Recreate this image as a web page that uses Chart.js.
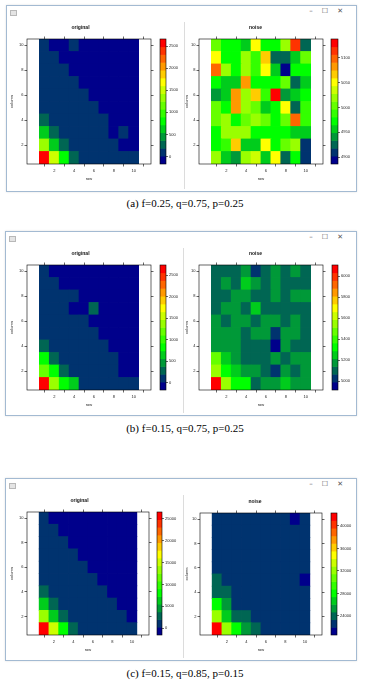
<!DOCTYPE html>
<html>
<head>
<meta charset="utf-8">
<script src="https://cdn.jsdelivr.net/npm/chart.js@4/dist/chart.umd.min.js"></script>
<style>
body { margin: 0; width: 370px; height: 690px; position: relative; overflow: hidden; background: #fff; }
.win { position: absolute; box-sizing: border-box; border: 1px solid #a3bad2; background: #fff; box-shadow: 0 0 2px rgba(0,0,0,0.12); }
.win .icon { position: absolute; left: 3px; top: 4px; width: 5px; height: 4px; border: 1px solid #b8b8b8; background: #e4e4e4; }
.win .btns { position: absolute; right: 4px; top: 1px; font: 7px "DejaVu Sans", sans-serif; color: #555; letter-spacing: 9px; }
.win .split { position: absolute; left: 177px; top: 16px; bottom: 2px; width: 1px; background: #dcdcdc; }
.box { position: absolute; }
.cap { position: absolute; left: 0; width: 370px; text-align: center; font: 11px "Liberation Serif", "Times New Roman", serif; color: #000; line-height: 13px; }
</style>
</head>
<body>
<script>
// x = row, y = column; grids below are written from column 10 (top) down to column 1
const rows = [1, 2, 3, 4, 5, 6, 7, 8, 9, 10];
const axisTicks = [2, 4, 6, 8, 10];

// (a) f=0.25, q=0.75, p=0.25
const origA = [
  [60, 0, 0, 25, 0, 0, 0, 0, 0, 0],
  [70, 55, 0, 0, 0, 0, 0, 0, 0, 0],
  [80, 65, 50, 0, 0, 0, 0, 0, 0, 0],
  [95, 80, 60, 45, 0, 0, 0, 0, 0, 0],
  [110, 90, 75, 55, 40, 0, 0, 0, 0, 0],
  [130, 105, 85, 65, 50, 35, 0, 0, 0, 0],
  [260, 125, 100, 80, 60, 45, 30, 0, 0, 0],
  [620, 240, 120, 95, 75, 55, 40, 0, 25, 0],
  [1330, 600, 230, 115, 90, 70, 50, 35, 0, 0],
  [2560, 1500, 780, 290, 110, 85, 65, 45, 30, 20]
];
const noiseA = [
  [5003, 4970, 4975, 4955, 5050, 4973, 4968, 5021, 5113, 4927],
  [5054, 4971, 4969, 5018, 4988, 5067, 4924, 4928, 4957, 5005],
  [5097, 5020, 4974, 5017, 4990, 5049, 4955, 4894, 4972, 4970],
  [4973, 4958, 4954, 5082, 4971, 4976, 4969, 5001, 4925, 4957],
  [4941, 4955, 5085, 5019, 5068, 4987, 5130, 4939, 4956, 4972],
  [5004, 4974, 5083, 5021, 5002, 4958, 4970, 5053, 4926, 4990],
  [5006, 5018, 4971, 5004, 5020, 5002, 4973, 5005, 5099, 4986],
  [4972, 5021, 5018, 5017, 4969, 4974, 4971, 4973, 4957, 4955],
  [4970, 4989, 5066, 4954, 4958, 5050, 4972, 5003, 5019, 4910],
  [5020, 4956, 4941, 5019, 5036, 4957, 5051, 4927, 4971, 4908]
];
const origARange = [-170, 2660];
const noiseARange = [4886, 5138];
const origATicks = [0, 500, 1000, 1500, 2000, 2500];
const noiseATicks = [4900, 4950, 5000, 5050, 5100];

// (b) f=0.15, q=0.75, p=0.25
const origB = [
  [60, 0, 0, 0, 0, 0, 0, 0, 0, 0],
  [70, 55, 0, 0, 0, 0, 0, 0, 0, 0],
  [80, 65, 50, 40, 0, 0, 0, 0, 0, 0],
  [95, 80, 60, 0, 0, 250, 0, 0, 0, 0],
  [110, 90, 75, 55, 40, 0, 0, 0, 0, 0],
  [130, 105, 85, 65, 50, 35, 0, 0, 0, 0],
  [270, 125, 100, 80, 60, 45, 30, 0, 0, 0],
  [820, 250, 120, 95, 75, 55, 40, 30, 0, 0],
  [1200, 830, 240, 115, 90, 70, 50, 35, 0, 0],
  [2650, 1420, 830, 650, 110, 85, 65, 45, 30, 20]
];
const noiseB = [
  [5098, 5105, 5092, 5170, 5030, 5110, 5178, 5096, 5181, 5104],
  [5107, 5172, 5099, 5246, 5168, 5093, 5176, 5102, 5110, 5095],
  [5101, 5094, 5183, 5177, 5106, 5098, 5172, 5108, 5169, 5180],
  [5096, 5174, 5180, 5103, 5255, 5100, 5092, 5109, 5097, 5105],
  [5185, 5099, 5171, 5178, 5104, 5173, 5182, 5095, 5176, 5102],
  [5179, 5168, 5184, 5097, 5175, 5170, 5025, 5181, 5174, 5107],
  [5173, 5186, 5177, 5100, 5094, 5103, 4958, 5172, 5098, 5106],
  [5470, 5252, 5176, 5104, 5097, 5101, 5183, 5095, 5171, 5178],
  [5550, 5320, 5244, 5169, 5180, 5108, 5022, 5174, 5099, 5185],
  [6070, 5545, 5330, 5318, 5102, 5177, 5171, 5248, 5183, 5176]
];
const origBRange = [-175, 2740];
const noiseBRange = [4915, 6105];
const origBTicks = [0, 500, 1000, 1500, 2000, 2500];
const noiseBTicks = [5000, 5200, 5400, 5600, 5800, 6000];

// (c) f=0.15, q=0.85, p=0.15
const origC = [
  [600, 0, 0, 0, 0, 0, 0, 0, 0, 0],
  [700, 550, 0, 0, 0, 0, 0, 0, 0, 0],
  [800, 650, 500, 0, 0, 0, 0, 0, 0, 0],
  [950, 800, 600, 450, 0, 0, 0, 0, 0, 0],
  [1100, 900, 750, 550, 400, 0, 0, 0, 0, 0],
  [1300, 1050, 850, 650, 500, 350, 0, 0, 0, 0],
  [2600, 1250, 1000, 800, 600, 450, 300, 0, 0, 0],
  [6200, 2500, 1200, 950, 750, 550, 400, 280, 0, 0],
  [13300, 6100, 2400, 1150, 900, 700, 500, 350, 250, 0],
  [25600, 14800, 8000, 2900, 1100, 850, 650, 450, 300, 200]
];
const noiseC = [
  [22700, 22650, 22600, 22550, 22500, 22550, 22600, 22500, 21300, 22550],
  [22650, 22600, 22550, 22500, 22600, 22550, 22500, 22650, 22600, 22550],
  [22600, 22550, 22650, 22600, 22500, 22550, 22600, 22550, 22500, 22600],
  [22650, 22600, 22550, 22600, 22550, 22500, 22650, 22600, 22550, 22500],
  [22700, 22650, 22600, 22550, 22600, 22550, 22500, 22600, 22650, 22550],
  [24000, 22700, 22650, 22600, 22550, 22500, 22550, 22500, 22450, 21400],
  [24100, 23900, 22700, 22650, 22600, 22550, 22500, 22600, 22550, 22500],
  [28100, 25400, 22800, 22700, 22650, 22600, 22550, 22500, 22600, 22550],
  [32100, 27000, 23900, 23700, 22800, 22650, 22600, 22550, 22500, 22600],
  [41600, 32300, 28200, 25300, 23800, 22900, 22800, 22700, 22650, 22600]
];
const origCRange = [-1600, 26600];
const noiseCRange = [20600, 42300];
const origCTicks = [0, 5000, 10000, 15000, 20000, 25000];
const noiseCTicks = [24000, 28000, 32000, 36000, 40000];

const FONT = '"Liberation Sans", Arial, sans-serif';
const tickFont = { family: FONT, size: 4 };
const NBANDS = 16;

// darkblue -> green -> yellow -> red, 16 levels
const palette = (function () {
  const stops = [[0, 0, 139], [0, 255, 0], [255, 255, 0], [255, 0, 0]];
  const out = [];
  for (let i = 0; i < NBANDS; i++) {
    const t = i / (NBANDS - 1) * 3;
    const k = Math.min(2, Math.floor(t));
    const f = t - k;
    const c = stops[k].map((a, j) => Math.round(a + (stops[k + 1][j] - a) * f));
    out.push('rgb(' + c.join(',') + ')');
  }
  return out;
})();

const frame = {
  id: 'frame',
  afterDatasetsDraw(chart) {
    const a = chart.chartArea, ctx = chart.ctx;
    ctx.save();
    ctx.strokeStyle = '#000';
    ctx.lineWidth = 0.6;
    ctx.strokeRect(a.left, a.top, a.right - a.left, a.bottom - a.top);
    ctx.restore();
  }
};

function fixedTicks(list) {
  return s => { s.ticks = list.map(v => ({ value: v })); };
}

function addBox(left, top, width, height) {
  const div = document.createElement('div');
  div.className = 'box';
  div.style.left = left + 'px';
  div.style.top = top + 'px';
  div.style.width = width + 'px';
  div.style.height = height + 'px';
  const cv = document.createElement('canvas');
  div.appendChild(cv);
  document.body.appendChild(div);
  return cv;
}

function bandOf(v, range) {
  const w = (range[1] - range[0]) / NBANDS;
  return Math.max(0, Math.min(NBANDS - 1, Math.floor((v - range[0]) / w)));
}

// g: plot rect L,T,R,B + canvas left/width + y title offset
function heatmap(grid, range, title, g) {
  const top = g.T - 18;
  const cv = addBox(g.cl, top, g.cw, g.B + 25 - top);
  const cells = [], colors = [];
  grid.forEach((line, k) => {
    const col = 10 - k;
    line.forEach((v, i) => {
      cells.push({ x: rows[i], y: [col - 0.5, col + 0.5] });
      colors.push(palette[bandOf(v, range)]);
    });
  });
  const gridOpt = { drawOnChartArea: false, tickLength: 2.5, color: '#000', lineWidth: 0.6 };
  new Chart(cv, {
    type: 'bar',
    data: {
      datasets: [{
        data: cells, backgroundColor: colors, borderWidth: 0, inflateAmount: 0.4,
        categoryPercentage: 1, barPercentage: 1, xAxisID: 'x', yAxisID: 'y'
      }]
    },
    options: {
      responsive: true, maintainAspectRatio: false, animation: false,
      layout: { padding: { left: 0, right: g.cl + g.cw - g.R - 4, top: 0, bottom: 0 } },
      plugins: {
        legend: { display: false }, tooltip: { enabled: false },
        title: { display: true, text: title, color: '#111', font: { family: FONT, size: 5, weight: 'bold' }, padding: { top: 4, bottom: 4 } }
      },
      scales: {
        x: {
          type: 'linear', position: 'bottom', min: 0.5, max: 10.5,
          afterBuildTicks: fixedTicks(axisTicks), afterFit: s => { s.height = 25; },
          grid: gridOpt, border: { display: false },
          ticks: { font: tickFont, color: '#222', padding: 2, maxRotation: 0, autoSkip: false, callback: v => String(v) },
          title: { display: true, text: 'row', font: tickFont, color: '#222', padding: { top: 0, bottom: 8 } }
        },
        x2: {
          type: 'linear', position: 'top', min: 0.5, max: 10.5,
          afterBuildTicks: fixedTicks(axisTicks), afterFit: s => { s.height = 4; },
          grid: gridOpt, border: { display: false }, ticks: { display: false }
        },
        y: {
          type: 'linear', position: 'left', min: 0.5, max: 10.5,
          afterBuildTicks: fixedTicks(axisTicks), afterFit: s => { s.width = g.L - g.cl; },
          grid: gridOpt, border: { display: false },
          ticks: { font: tickFont, color: '#222', padding: 1, autoSkip: false, callback: v => String(v) },
          title: { display: true, text: 'column', font: tickFont, color: '#222', padding: { top: g.yt, bottom: 0 } }
        },
        y2: {
          type: 'linear', position: 'right', min: 0.5, max: 10.5,
          afterBuildTicks: fixedTicks(axisTicks), afterFit: s => { s.width = 4; },
          grid: gridOpt, border: { display: false }, ticks: { display: false }
        }
      }
    },
    plugins: [frame]
  });
}

// colour key: rect L,T,R,B
function colorKey(range, ticks, k) {
  const cv = addBox(k.L - 3, k.T - 5, k.R - k.L + 21, k.B - k.T + 10);
  const w = (range[1] - range[0]) / NBANDS;
  const bands = palette.map((c, i) => ({ x: 'k', y: [range[0] + i * w, range[0] + (i + 1) * w] }));
  new Chart(cv, {
    type: 'bar',
    data: { labels: ['k'], datasets: [{ data: bands, backgroundColor: palette, borderWidth: 0, inflateAmount: 0.3, categoryPercentage: 1, barPercentage: 1 }] },
    options: {
      responsive: true, maintainAspectRatio: false, animation: false,
      layout: { padding: { left: 3, right: 0, top: 5, bottom: 5 } },
      plugins: { legend: { display: false }, tooltip: { enabled: false } },
      scales: {
        x: { display: false },
        y: {
          position: 'right', min: range[0], max: range[1],
          afterBuildTicks: fixedTicks(ticks), afterFit: s => { s.width = 18; },
          grid: { drawOnChartArea: false, tickLength: 2, color: '#000', lineWidth: 0.6 },
          border: { display: false },
          ticks: { font: tickFont, color: '#222', padding: 1, autoSkip: false, callback: v => String(v) }
        }
      }
    },
    plugins: [frame]
  });
}

function windowFrame(left, top, width, height) {
  const d = document.createElement('div');
  d.className = 'win';
  d.style.left = left + 'px';
  d.style.top = top + 'px';
  d.style.width = width + 'px';
  d.style.height = height + 'px';
  d.innerHTML = '<div class="icon"></div><div class="btns">–☐✕</div><div class="split"></div>';
  document.body.appendChild(d);
}

function caption(text, y) {
  const d = document.createElement('div');
  d.className = 'cap';
  d.style.top = (y - 6.5) + 'px';
  d.textContent = text;
  document.body.appendChild(d);
}

// panel (a)
windowFrame(6, 5, 351, 187);
heatmap(origA, origARange, 'original', { L: 27, T: 39, R: 151, B: 164, cl: 6, cw: 176, yt: 3.6 });
colorKey(origARange, origATicks, { L: 160, T: 39, R: 166, B: 164 });
heatmap(noiseA, noiseARange, 'noise', { L: 199, T: 39, R: 323, B: 164, cl: 184, cw: 164, yt: 0.6 });
colorKey(noiseARange, noiseATicks, { L: 331, T: 39, R: 338, B: 164 });
caption('(a) f=0.25, q=0.75, p=0.25', 203);

// panel (b)
windowFrame(5, 231, 352, 185);
heatmap(origB, origBRange, 'original', { L: 27, T: 265, R: 151, B: 390, cl: 6, cw: 176, yt: 3.6 });
colorKey(origBRange, origBTicks, { L: 160, T: 265, R: 166, B: 390 });
heatmap(noiseB, noiseBRange, 'noise', { L: 199, T: 265, R: 323, B: 390, cl: 184, cw: 164, yt: 0.6 });
colorKey(noiseBRange, noiseBTicks, { L: 332, T: 265, R: 338, B: 390 });
caption('(b) f=0.15, q=0.75, p=0.25', 428);

// panel (c)
windowFrame(5, 478, 352, 183);
heatmap(origC, origCRange, 'original', { L: 27, T: 512, R: 149, B: 635, cl: 6, cw: 176, yt: 3.6 });
colorKey(origCRange, origCTicks, { L: 157, T: 512, R: 162, B: 635 });
heatmap(noiseC, noiseCRange, 'noise', { L: 200, T: 513, R: 322, B: 635, cl: 184, cw: 164, yt: 0.6 });
colorKey(noiseCRange, noiseCTicks, { L: 331, T: 513, R: 337, B: 635 });
caption('(c) f=0.15, q=0.85, p=0.15', 673);
</script>
</body>
</html>
